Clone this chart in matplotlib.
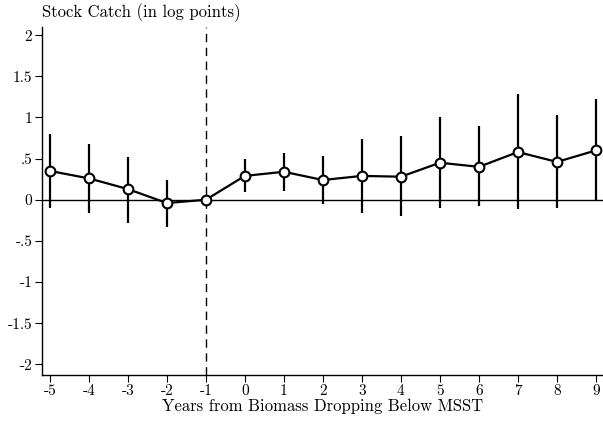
import matplotlib
matplotlib.use('Agg')
import matplotlib.pyplot as plt

plt.rcParams['font.family'] = 'cmr10'
plt.rcParams['axes.unicode_minus'] = False
plt.rcParams['mathtext.fontset'] = 'cm'

years = [-5, -4, -3, -2, -1, 0, 1, 2, 3, 4, 5, 6, 7, 8, 9]
coef = [0.35, 0.26, 0.13, -0.04, 0.0, 0.29, 0.34, 0.24, 0.29, 0.28, 0.45, 0.40, 0.58, 0.46, 0.60]
ci_hi = [0.80, 0.68, 0.52, 0.24, 0.0, 0.50, 0.57, 0.53, 0.74, 0.77, 1.00, 0.90, 1.28, 1.03, 1.22]
ci_lo = [-0.10, -0.16, -0.28, -0.33, 0.0, 0.10, 0.11, -0.05, -0.16, -0.20, -0.10, -0.08, -0.11, -0.10, -0.02]

yticks = [-2, -1.5, -1, -0.5, 0, 0.5, 1, 1.5, 2]
ytick_labels = ['-2', '-1.5', '-1', '-.5', '0', '.5', '1', '1.5', '2']

fig = plt.figure(figsize=(6.03, 4.21), dpi=100)
ax = fig.add_axes([0.0697, 0.1093, 0.9303, 0.8266])

ax.axhline(0, color='black', lw=1.0, zorder=1)
ax.axvline(-1, color='black', lw=1.0, ls=(0, (6, 4)), zorder=1)

ax.vlines(years, ci_lo, ci_hi, color='black', lw=1.6, zorder=2)
ax.plot(years, coef, '-o', color='black', lw=1.6, ms=7, mfc='white', mec='black', mew=1.5, zorder=3)

ax.set_xlim(-5.2, 9.18)
ax.set_ylim(-2.13, 2.1)
ax.set_xticks(years)
ax.set_xticklabels([str(y) for y in years])
ax.set_yticks(yticks)
ax.set_yticklabels(ytick_labels)
ax.tick_params(direction='out', length=5, width=0.8, labelsize=11, pad=2)

for side in ['top', 'right']:
    ax.spines[side].set_visible(False)
for side in ['left', 'bottom']:
    ax.spines[side].set_linewidth(1.0)

ax.set_xlabel('Years from Biomass Dropping Below MSST', fontsize=12, labelpad=0)
fig.text(0.0697, 0.97, 'Stock Catch (in log points)', fontsize=12, ha='left', va='center')

fig.savefig('out.png', dpi=100)
